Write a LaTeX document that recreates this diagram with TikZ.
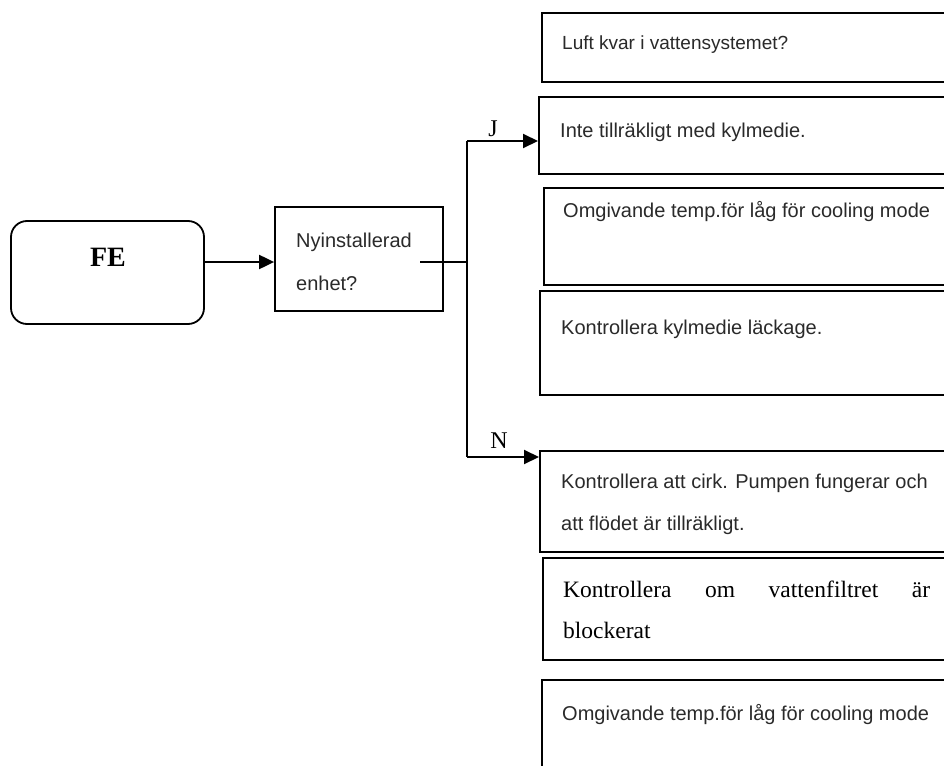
\documentclass[tikz,border=0pt]{standalone}
\usepackage{fontspec}
\setmainfont{Liberation Serif}
\newfontfamily\arialfont{Liberation Sans}
\usetikzlibrary{arrows.meta}
\definecolor{txt}{HTML}{2A2A2A}
\begin{document}
\begin{tikzpicture}[x=1pt,y=-1pt,
  box/.style={draw=black,line width=1.8pt,fill=white,inner sep=0pt},
  rbox/.style={box,rounded corners=16pt},
  sanstxt/.style={anchor=base west,inner sep=0pt,text=txt,font=\arialfont\fontsize{20}{24}\selectfont},
  seriftxt/.style={anchor=base west,inner sep=0pt,text=black,font=\fontsize{23.5}{28}\selectfont},
  conn/.style={draw=black,line width=2pt},
  arr/.style={conn,-{Triangle[length=15pt,width=14pt]}},
  tag/.style={anchor=base,inner sep=0pt,font=\fontsize{24}{28}\selectfont}]
\useasboundingbox (0,0) rectangle (944,765);
\fill[white] (0,0) rectangle (944,765);
\clip (0,0) rectangle (944,765);

% start and question boxes
\node[rbox,minimum width=193pt,minimum height=103pt] (fe) at (107.5,272.5) {};
\node[anchor=base,inner sep=0pt,font=\bfseries\fontsize{28}{32}\selectfont] (fetext) at (108,266) {FE};
\node[box,minimum width=168pt,minimum height=104pt] (ny) at (359,259) {};
\node[sanstxt] (nytext1) at (296,247) {Nyinstallerad};
\node[sanstxt] (nytext2) at (296,290) {enhet?};

% answer boxes on the right (running past the page edge)
\node[box,anchor=north west,minimum width=419pt,minimum height=69pt] (b1) at (541,12) {};
\node[box,anchor=north west,minimum width=422pt,minimum height=77pt] (b2) at (538,96) {};
\node[box,anchor=north west,minimum width=417pt,minimum height=97pt] (b3) at (543,187) {};
\node[box,anchor=north west,minimum width=421pt,minimum height=104pt] (b4) at (539,290) {};
\node[box,anchor=north west,minimum width=421pt,minimum height=101pt] (b5) at (539,450) {};
\node[box,anchor=north west,minimum width=418pt,minimum height=102pt] (b6) at (542,557) {};
\node[box,anchor=north west,minimum width=419pt,minimum height=120pt] (b7) at (541,679) {};

\node[sanstxt,font=\arialfont\fontsize{19}{23}\selectfont] (t1) at (562,50) {Luft kvar i vattensystemet?};
\node[sanstxt] (t2) at (560,137) {Inte tillräkligt med kylmedie.};
\node[sanstxt] (t3) at (563,217) {Omgivande temp.för låg för cooling mode};
\node[sanstxt] (t4) at (561,334) {Kontrollera kylmedie läckage.};
\node[sanstxt] (t5a) at (561,488) {Kontrollera att cirk. Pumpen fungerar och};
\node[sanstxt] (t5b) at (561,530) {att flödet är tillräkligt.};
\node[seriftxt] (t6a) at (563,597) {\makebox[367pt][s]{Kontrollera om vattenfiltret är}};
\node[seriftxt] (t6b) at (563,638) {blockerat};
\node[sanstxt] (t7) at (562,720) {Omgivande temp.för låg för cooling mode};

% connectors
\coordinate (fork) at (467,262);
\coordinate (tap) at (420,262);
\coordinate (jturn) at (467,141);
\coordinate (nturn) at (467,457);
\draw[arr] (fe.east |- fork) -- (ny.west |- fork);
\draw[conn] (tap) -- (fork);
\draw[conn] (jturn) -- (nturn);
\draw[arr] (jturn) -- (jturn -| b2.west);
\draw[arr] (nturn) -- (nturn -| b5.west);
\node[tag] (jlabel) at (493,136) {J};
\node[tag] (nlabel) at (499,448) {N};
\end{tikzpicture}
\end{document}
